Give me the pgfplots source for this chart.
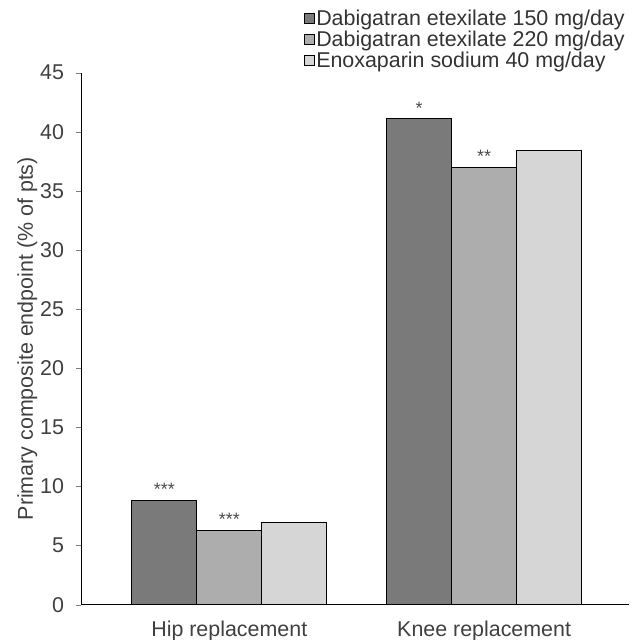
\documentclass[border={14bp 0bp 2bp 8bp}]{standalone}
\usepackage{pgfplots}
\pgfplotsset{compat=1.18}
\usepackage{fontspec}
\setmainfont{Liberation Sans}
\definecolor{cA}{gray}{0.48}
\definecolor{cB}{gray}{0.68}
\definecolor{cC}{gray}{0.84}
\begin{document}
\begin{tikzpicture}[x=1bp,y=1bp]
\begin{axis}[
  scale only axis,
  width=548bp, height=532bp,
  ymin=0, ymax=45,
  xmin=-0.58, xmax=1.57,
  ytick={0,5,...,45},
  xtick={0,1},
  xticklabels={Hip replacement, Knee replacement},
  axis lines*=left,
  axis line style={line width=0.8pt},
  ytick pos=left,
  tick align=outside,
  major tick length=5bp,
  x tick style={draw=none},
  /pgf/number format/assume math mode=true,
  ticklabel style={font=\fontsize{21.5}{25}\selectfont, text=black!75},
  yticklabel style={xshift=-9bp},
  xticklabel style={font=\fontsize{21.5}{25}\selectfont, text=black!75, yshift=-8bp, text depth=0pt},
  ylabel={Primary composite endpoint (\% of pts)},
  ylabel style={font=\fontsize{21.5}{25}\selectfont, text=black!75, yshift=-4bp},
  ybar=0pt,
  bar width=0.255,
  nodes near coords,
  point meta=explicit symbolic,
  every node near coord/.append style={font=\fontsize{18}{18}\selectfont, text=black!70, yshift=1bp},
  legend style={at={(rel axis cs:0.405,1.122)}, anchor=north west, draw=none, fill=none,
    font=\fontsize{21.5}{25}\selectfont, text=black!80, row sep=0bp,
    legend cell align=left, inner sep=0pt},
  legend image code/.code={\draw[#1, draw=black] (0bp,-5bp) rectangle (10bp,5bp);},
]
\addplot[fill=cA, draw=black, line width=0.7pt] coordinates {(0,8.8) [***] (1,41.1) [*]};
\addplot[fill=cB, draw=black, line width=0.7pt] coordinates {(0,6.3) [***] (1,37.0) [**]};
\addplot[fill=cC, draw=black, line width=0.7pt] coordinates {(0,7.0) [] (1,38.4) []};
\legend{Dabigatran etexilate 150 mg/day, Dabigatran etexilate 220 mg/day, Enoxaparin sodium 40 mg/day}
\end{axis}
\end{tikzpicture}
\end{document}
